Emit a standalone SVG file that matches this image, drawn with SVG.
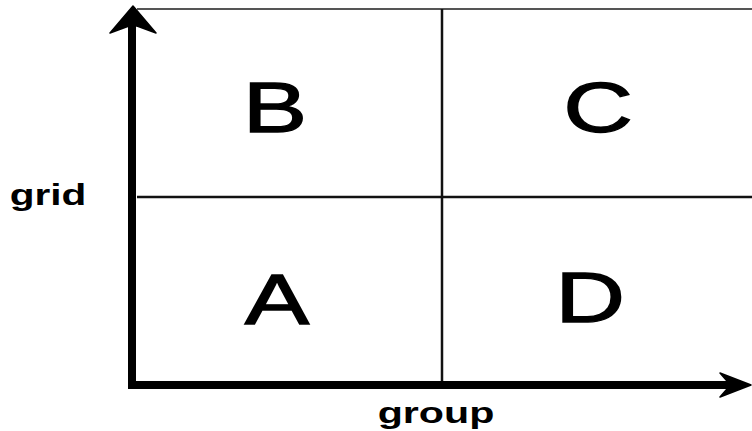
<svg xmlns="http://www.w3.org/2000/svg" width="752" height="431" viewBox="0 0 752 431">
<style>
.grid{stroke:#111;stroke-width:2.5;fill:none}
.top{stroke:#555;stroke-width:2;fill:none}
.axis{stroke:#000;stroke-width:8;fill:none}
.head{fill:#000;stroke:#000;stroke-width:1.5;stroke-linejoin:round}
.big{font-family:"Liberation Sans",Arial,sans-serif;font-size:70px;fill:#000;stroke:#000;stroke-width:1.3;text-anchor:middle}
.lab{font-family:"Liberation Sans",Arial,sans-serif;font-size:29px;font-weight:bold;fill:#000;text-anchor:middle}
</style>
<rect width="752" height="431" fill="#fff"/>
<g id="connectors">
<line class="top" x1="137" y1="9" x2="752" y2="9"/>
<line class="grid" x1="137" y1="197" x2="752" y2="197"/>
<line class="grid" x1="442" y1="9" x2="442" y2="384"/>
<line class="axis" x1="132" y1="24" x2="132" y2="389"/>
<line class="axis" x1="128" y1="385" x2="730" y2="385"/>
<polygon class="head" points="133,6 156,33 137,26 129,26 110,33"/>
<polygon class="head" points="751,385 720,397 727,389 727,381 720,373"/>
</g>
<g id="node-B"><text class="big" transform="translate(275,132) scale(1.38,1)">B</text></g>
<g id="node-C"><text class="big" transform="translate(598,132) scale(1.38,1)">C</text></g>
<g id="node-A"><text class="big" transform="translate(277,324) scale(1.38,1)">A</text></g>
<g id="node-D"><text class="big" transform="translate(590,322) scale(1.38,1)">D</text></g>
<g id="label-grid"><text class="lab" transform="translate(48,205) scale(1.4,1)">grid</text></g>
<g id="label-group"><text class="lab" transform="translate(436,423) scale(1.42,1)">group</text></g>
</svg>
